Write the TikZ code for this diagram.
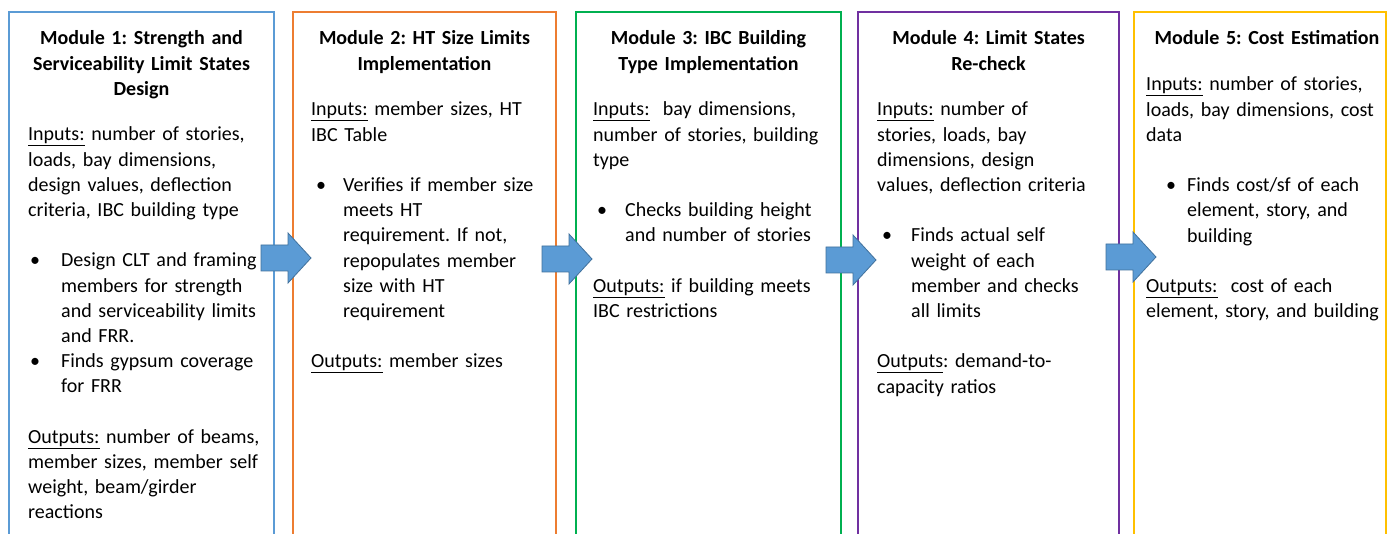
\documentclass[tikz,border=0pt]{standalone}
\usepackage{fontspec}
\setmainfont{Carlito}
\frenchspacing
\definecolor{c1}{HTML}{5B9BD5}
\definecolor{c2}{HTML}{ED7D31}
\definecolor{c3}{HTML}{00B050}
\definecolor{c4}{HTML}{7030A0}
\definecolor{c5}{HTML}{FFC000}
\definecolor{arrfill}{HTML}{5B9BD5}
\definecolor{arrdraw}{HTML}{41719C}
\newcommand{\ul}[1]{\underline{#1}}
\newcommand{\bl}[2]{\makebox[#1][l]{\hspace*{#2}\textbullet}}
\tikzset{
  modbox/.style={draw, line width=1.8pt, rectangle, minimum height=560pt, outer sep=0pt, inner sep=0pt, anchor=north west},
  modtitle/.style={font=\fontsize{20}{25.2}\selectfont\bfseries\frenchspacing, align=center, anchor=base, inner sep=0pt, text width=#1},
  modbody/.style={font=\fontsize{20}{25.2}\selectfont\frenchspacing, align=left, anchor=base west, inner sep=0pt, text width=270pt},
  blockarrow/.style={fill=arrfill, draw=arrdraw, line width=0.8pt, line join=miter}
}
\begin{document}
\begin{tikzpicture}[x=1pt, y=-1pt]
\useasboundingbox (0,0) rectangle (1392,534);
\clip (0,0) rectangle (1392,534);
\fill[white] (0,0) rectangle (1392,534);
% boxes
\node[modbox, draw=c1, minimum width=265pt] (m1) at (9,12) {};
\node[modbox, draw=c2, minimum width=263pt] (m2) at (293,12) {};
\node[modbox, draw=c3, minimum width=265pt] (m3) at (576,12) {};
\node[modbox, draw=c4, minimum width=261pt] (m4) at (858,12) {};
\node[modbox, draw=c5, minimum width=252pt] (m5) at (1134,12) {};
% titles
\node[modtitle=262pt] (t1) at (141.5,45) {Module 1: Strength and\\Serviceability Limit States\\Design};
\node[modtitle=262pt] (t2) at (424.5,45) {Module 2: HT Size Limits\\Implementation};
\node[modtitle=262pt] (t3) at (708.5,45) {Module 3: IBC Building\\Type Implementation};
\node[modtitle=262pt] (t4) at (988.5,45) {Module 4: Limit States\\Re-check};
\node[modtitle=262pt] (t5) at (1267,45) {Module 5: Cost Estimation};
% bodies
\node[modbody] (b1) at (28,141) {\ul{Inputs:} number of stories,\\
loads, bay dimensions,\\
design values, deflection\\
criteria, IBC building type\\[25.2pt]
\bl{33pt}{2pt}Design CLT and framing\\
\hspace*{33pt}members for strength\\
\hspace*{33pt}and serviceability limits\\
\hspace*{33pt}and FRR.\\
\bl{33pt}{2pt}Finds gypsum coverage\\
\hspace*{33pt}for FRR\\[25.2pt]
\ul{Outputs:} number of beams,\\
member sizes, member self\\
weight, beam/girder\\
reactions};
\node[modbody] (b2) at (311,116) {\ul{Inputs:} member sizes, HT\\
IBC Table\\[25.2pt]
\bl{32pt}{5pt}Verifies if member size\\
\hspace*{32pt}meets HT\\
\hspace*{32pt}requirement. If not,\\
\hspace*{32pt}repopulates member\\
\hspace*{32pt}size with HT\\
\hspace*{32pt}requirement\\[25.2pt]
\ul{Outputs:} member sizes};
\node[modbody] (b3) at (593,116) {\ul{Inputs:}\ \ bay dimensions,\\
number of stories, building\\
type\\[25.2pt]
\bl{32pt}{4pt}Checks building height\\
\hspace*{32pt}and number of stories\\[25.2pt]
\ul{Outputs:} if building meets\\
IBC restrictions};
\node[modbody] (b4) at (877,116) {\ul{Inputs:} number of\\
stories, loads, bay\\
dimensions, design\\
values, deflection criteria\\[25.2pt]
\bl{34pt}{5pt}Finds actual self\\
\hspace*{34pt}weight of each\\
\hspace*{34pt}member and checks\\
\hspace*{34pt}all limits\\[25.2pt]
\ul{Outputs}: demand-to-\\
capacity ratios};
\node[modbody] (b5) at (1146,91) {\ul{Inputs:} number of stories,\\
loads, bay dimensions, cost\\
data\\[25.2pt]
\bl{41pt}{20pt}Finds cost/sf of each\\
\hspace*{41pt}element, story, and\\
\hspace*{41pt}building\\[25.2pt]
\ul{Outputs:}\ \ cost of each\\
element, story, and building};
% arrows
\coordinate (a1) at (261,258);
\coordinate (a2) at (542,259);
\coordinate (a3) at (826,260);
\coordinate (a4) at (1106,257);
\foreach \a in {a1,a2,a3,a4}{
  \draw[blockarrow] (\a) ++(0,-13) -- ++(27,0) -- ++(0,-12) -- ++(23,25) -- ++(-23,25) -- ++(0,-12) -- ++(-27,0) -- cycle;
}
\end{tikzpicture}
\end{document}
